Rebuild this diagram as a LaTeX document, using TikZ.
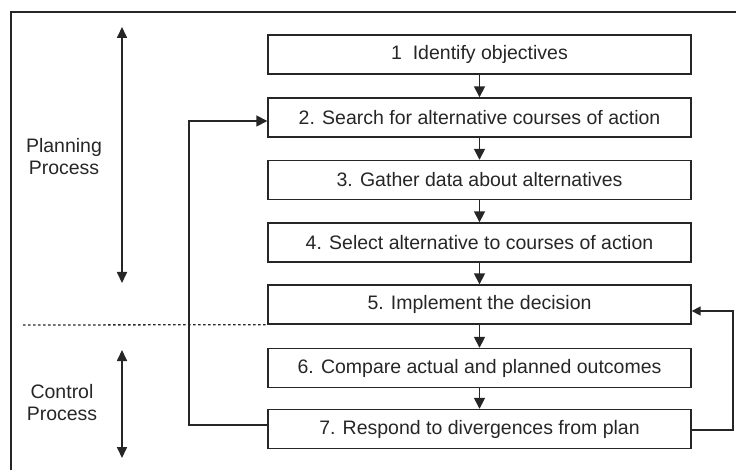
\documentclass[tikz,border=0pt]{standalone}
\usepackage{fontspec}
\setmainfont{Liberation Sans}
\usetikzlibrary{arrows.meta}
\definecolor{ink}{gray}{0.15}
\begin{document}
\begin{tikzpicture}[x=1pt,y=-1pt,
  every node/.style={text=ink},
  stepbox/.style={draw=ink, line width=1.4pt, minimum width=423pt,
    minimum height=39pt, inner sep=0pt,
    font=\fontsize{19.5}{22}\selectfont},
  sidelabel/.style={align=center, font=\fontsize{19.5}{22}\selectfont},
  flow/.style={draw=ink, line width=1.7pt, -{Triangle[length=11pt,width=11pt]}},
  span/.style={draw=ink, line width=1.7pt,
    {Triangle[length=11pt,width=10pt]}-{Triangle[length=11pt,width=10pt]}},
  divider/.style={draw=ink, line width=1.3pt, dash pattern=on 2.5pt off 2.5pt}]
\useasboundingbox (0,0) rectangle (736,470);

% outer frame (top and left edges)
\coordinate (frameTR) at (736,12);
\coordinate (frameTL) at (11,12);
\coordinate (frameBL) at (11,470);
\draw[ink, line width=1.2pt] (frameTR) -- (frameTL) -- (frameBL);

% process steps
\node[stepbox] (b1) at (479.5,54.5)  {1~~Identify objectives};
\node[stepbox] (b2) at (479.5,117.5) {2. Search for alternative courses of action};
\node[stepbox] (b3) at (479.5,180)   {3. Gather data about alternatives};
\node[stepbox] (b4) at (479.5,242.5) {4. Select alternative to courses of action};
\node[stepbox] (b5) at (479.5,304.5) {5. Implement the decision};
\node[stepbox] (b6) at (479.5,368)   {6. Compare actual and planned outcomes};
\node[stepbox] (b7) at (479.5,429)   {7. Respond to divergences from plan};

% main sequence
\foreach \a/\b in {b1/b2,b2/b3,b3/b4,b4/b5,b5/b6,b6/b7}
  \draw[flow] (\a.south) -- (\b.north);

% feedback loop to step 2
\coordinate (lbot) at (189,425);
\coordinate (ltop) at (189,121);
\draw[flow] ([yshift=4pt]b7.west) -- (lbot) -- (ltop) -- ([yshift=-3.5pt]b2.west);

% feedback loop to step 5
\coordinate (rbot) at (733,430);
\coordinate (rtop) at (733,311);
\draw[draw=ink, line width=1.7pt, -{Triangle[length=9pt,width=9pt]}]
  ([yshift=-1pt]b7.east) -- (rbot) -- (rtop) -- ([yshift=-6.5pt]b5.east);

% planning / control split
\coordinate (divstart) at (23,325);
\draw[divider] (divstart) -- (b5.south west);

% phase spans
\coordinate (planTop) at (122,27);
\coordinate (planBot) at (122,283);
\coordinate (ctrlTop) at (122,350);
\coordinate (ctrlBot) at (122,458);
\draw[span] (planTop) -- (planBot);
\draw[span] (ctrlTop) -- (ctrlBot);

\node[sidelabel] (planlbl) at (64,157) {Planning\\Process};
\node[sidelabel] (ctrllbl) at (62,403) {Control\\Process};
\end{tikzpicture}
\end{document}
